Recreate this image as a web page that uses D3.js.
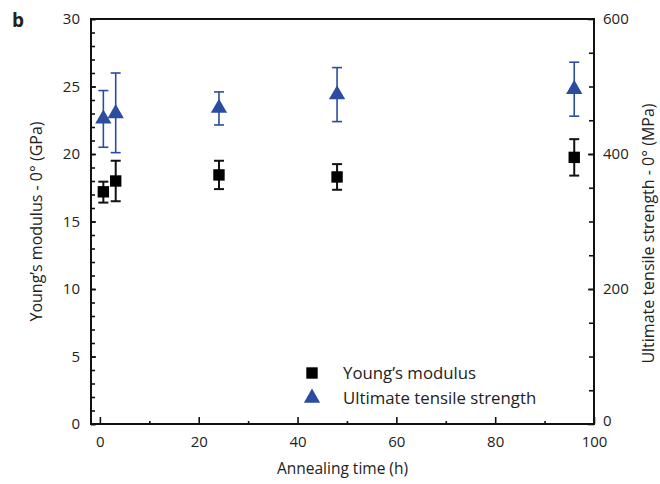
<!DOCTYPE html>
<html>
<head>
<meta charset="utf-8">
<script src="https://cdn.jsdelivr.net/npm/d3@7"></script>
<style>
  body { margin: 0; background: #fff; }
  text { font-family: "Open Sans", sans-serif; fill: #222; }
</style>
</head>
<body>
<div class="chart"></div>
<script>
// annealing times (h)
const times = [0.7, 3.2, 24.1, 48, 96];
// Young's modulus (GPa) with error bar ends
const modulus = [17.2, 18.0, 18.45, 18.3, 19.75];
const modulusLow = [16.4, 16.5, 17.4, 17.35, 18.4];
const modulusHigh = [17.95, 19.5, 19.5, 19.25, 21.1];
// ultimate tensile strength (MPa) with error bar ends
const uts = [452, 460, 468, 488, 496];
const utsLow = [410, 402, 443, 448, 456];
const utsHigh = [494, 520, 492, 528, 536];

const xTicks = [0, 20, 40, 60, 80, 100];
const yTicks = [0, 5, 10, 15, 20, 25, 30];
const y2Ticks = [0, 200, 400, 600];

const W = 660, H = 484;
const plotLeft = 91, plotRight = 594, plotTop = 19, plotBottom = 424;
const blue = '#2b4d9f';

const svg = d3.select('.chart').append('svg')
  .attr('width', W)
  .attr('height', H);

const x = d3.scaleLinear().domain([-1.8, 100]).range([plotLeft, plotRight]);
const y = d3.scaleLinear().domain([0, 30]).range([plotBottom, plotTop]);
const y2 = d3.scaleLinear().domain([0, 600]).range([plotBottom, plotTop]);

// minor ticks first
svg.append('g')
  .attr('transform', `translate(0, ${plotBottom})`)
  .call(d3.axisBottom(x).tickValues(d3.range(10, 100, 20)).tickSizeInner(-3).tickSizeOuter(0).tickFormat(''));
svg.append('g')
  .attr('transform', `translate(${plotLeft}, 0)`)
  .call(d3.axisLeft(y).tickValues(d3.range(0, 31, 1)).tickSizeInner(-4).tickSizeOuter(0).tickFormat(''));
svg.append('g')
  .attr('transform', `translate(${plotRight}, 0)`)
  .call(d3.axisRight(y2).tickValues(d3.range(50, 600, 50)).tickSizeInner(-5).tickSizeOuter(0).tickFormat(''));

// major ticks with labels
svg.append('g')
  .attr('transform', `translate(0, ${plotBottom})`)
  .call(d3.axisBottom(x).tickValues(xTicks).tickSizeInner(-7).tickSizeOuter(0).tickPadding(12));
svg.append('g')
  .attr('transform', `translate(${plotLeft}, 0)`)
  .call(d3.axisLeft(y).tickValues(yTicks).tickSizeInner(-5).tickSizeOuter(0).tickPadding(11));
const y2Axis = svg.append('g')
  .attr('transform', `translate(${plotRight}, 0)`)
  .call(d3.axisRight(y2).tickValues(y2Ticks).tickSizeInner(-6).tickSizeOuter(0).tickPadding(9));

svg.selectAll('.tick line').attr('stroke', '#111').attr('stroke-width', 1.6);
svg.selectAll('.domain').remove();
svg.selectAll('.tick text').attr('font-size', '15px').attr('font-family', '"Open Sans", sans-serif').attr('fill', '#222');
// lift the right "0" a little so it clears the "100" below it
y2Axis.selectAll('.tick text').filter(d => d === 0).attr('dy', '0.1em');

// frame
svg.append('rect')
  .attr('x', plotLeft).attr('y', plotTop)
  .attr('width', plotRight - plotLeft).attr('height', plotBottom - plotTop)
  .attr('fill', 'none').attr('stroke', '#111').attr('stroke-width', 2);

// error bars
function errorBars(lo, hi, scale, color, width) {
  const g = svg.append('g').attr('stroke', color).attr('stroke-width', width).attr('fill', 'none');
  times.forEach((t, i) => {
    const cx = x(t);
    g.append('line').attr('x1', cx).attr('x2', cx).attr('y1', scale(lo[i])).attr('y2', scale(hi[i]));
    g.append('line').attr('x1', cx - 5).attr('x2', cx + 5).attr('y1', scale(lo[i])).attr('y2', scale(lo[i]));
    g.append('line').attr('x1', cx - 5).attr('x2', cx + 5).attr('y1', scale(hi[i])).attr('y2', scale(hi[i]));
  });
}
errorBars(utsLow, utsHigh, y2, blue, 1.6);
errorBars(modulusLow, modulusHigh, y, '#111', 2);

const square = d3.symbol().type(d3.symbolSquare).size(130);
const triangle = d3.symbol().type(d3.symbolTriangle).size(115);

svg.append('g').selectAll('path')
  .data(times)
  .enter()
  .append('path')
  .attr('d', triangle)
  .attr('fill', blue)
  .attr('transform', (d, i) => `translate(${x(d)}, ${y2(uts[i])})`);

svg.append('g').selectAll('path')
  .data(times)
  .enter()
  .append('path')
  .attr('d', square)
  .attr('fill', '#000')
  .attr('transform', (d, i) => `translate(${x(d)}, ${y(modulus[i])})`);

// legend
svg.append('path').attr('d', square).attr('fill', '#000').attr('transform', 'translate(312, 373)');
svg.append('path').attr('d', triangle).attr('fill', blue).attr('transform', 'translate(312, 398)');
svg.append('text').attr('x', 343).attr('y', 379).attr('font-size', '16.8px').text('Young’s modulus');
svg.append('text').attr('x', 343).attr('y', 404).attr('font-size', '16.8px').text('Ultimate tensile strength');

// axis titles
svg.append('text')
  .attr('x', (plotLeft + plotRight) / 2).attr('y', 474)
  .attr('text-anchor', 'middle').attr('font-size', '15.5px')
  .text('Annealing time (h)');
svg.append('text')
  .attr('transform', `translate(42, ${(plotTop + plotBottom) / 2}) rotate(-90)`)
  .attr('text-anchor', 'middle').attr('font-size', '16px')
  .text('Young’s modulus - 0° (GPa)');
svg.append('text')
  .attr('transform', `translate(654, ${(plotTop + plotBottom) / 2 + 12}) rotate(-90)`)
  .attr('text-anchor', 'middle').attr('font-size', '16px')
  .text('Ultimate tensile strength - 0° (MPa)');

svg.append('text')
  .attr('x', 12).attr('y', 27)
  .attr('font-size', '19px').style('font-weight', '700')
  .text('b');
</script>
</body>
</html>
